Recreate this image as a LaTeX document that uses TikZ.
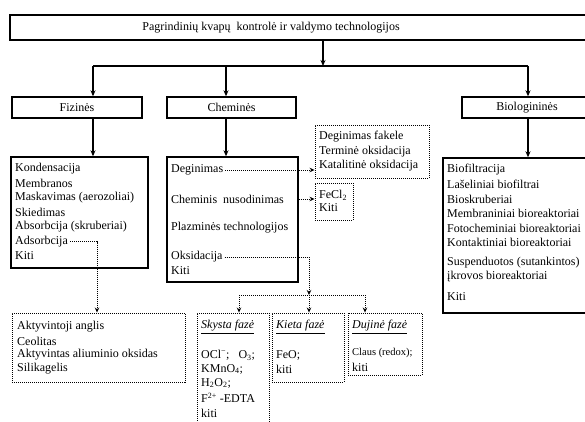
\documentclass[tikz,border=0pt]{standalone}
\usepackage{fontspec}
\setmainfont{Liberation Serif}
\usetikzlibrary{arrows.meta,positioning}
\tikzset{
  box/.style={draw, line width=1.4pt, inner sep=0pt, font=\fontsize{12}{14}\selectfont},
  dotbox/.style={draw, line width=0.9pt, dash pattern=on 1pt off 1pt, inner sep=0pt},
  item/.style={anchor=west, inner sep=0pt, font=\fontsize{12}{14}\selectfont},
  arr/.style={line width=1.2pt, -{Stealth[length=6pt,width=5pt]}},
  dotline/.style={line width=0.9pt, dash pattern=on 1pt off 1pt},
  dotarr/.style={dotline, -{Stealth[length=5pt,width=4.5pt]}},
}

\begin{document}
\begin{tikzpicture}[x=1pt,y=-1pt]
  \useasboundingbox (0,0) rectangle (585,422);
  \clip (0,0) rectangle (585,422);

  % top level
  \node[box, minimum width=590pt, minimum height=25pt] (top) at (305,27.5) {};
  \node[item, anchor=center] (toptext) at (271,27.5) {Pagrindinių kvapų\ \ kontrolė ir valdymo technologijos};
  \node[box, minimum width=130pt, minimum height=21pt] (fiz) at (77,107.5) {Fizinės};
  \node[box, minimum width=129pt, minimum height=21pt] (chem) at (231.5,107.5) {Cheminės};
  \node[box, minimum width=130pt, minimum height=21pt] (bio) at (527,107.5) {Biologininės};

  % lists
  \node[box, minimum width=137pt, minimum height=111pt] (fizlist) at (79.5,212.5) {};
  \node[box, minimum width=131pt, minimum height=125pt] (chemlist) at (232.5,219.5) {};
  \node[box, minimum width=157pt, minimum height=155pt] (biolist) at (521.5,235.5) {};
  \foreach \t [count=\i] in {Kondensacija,Membranos,Maskavimas (aerozoliai),Skiedimas,Absorbcija (skruberiai),Adsorbcija,Kiti}
    \node[item] (fiz\i) at (15,{154.5+14.5*\i}) {\t};
  \foreach \t/\y [count=\i] in {Deginimas/170,Cheminis\ \ nusodinimas/199,Plazminės technologijos/228,Oksidacija/257,Kiti/271}
    \node[item] (chem\i) at (171,\y) {\t};
  \foreach \t/\y [count=\i] in {Biofiltracija/170,Lašeliniai biofiltrai/184,Bioskruberiai/199,Membraniniai bioreaktoriai/213,
      Fotocheminiai bioreaktoriai/228,Kontaktiniai bioreaktoriai/242,Suspenduotos (sutankintos)/263,įkrovos bioreaktoriai/277,Kiti/297}
    \node[item] (bio\i) at (447,\y) {\t};

  % dotted boxes
  \node[dotbox, minimum width=114pt, minimum height=53pt] (degbox) at (372,151.5) {};
  \node[item] (deg1) at (319,137) {Deginimas fakele};
  \node[item] (deg2) at (319,152) {Terminė oksidacija};
  \node[item] (deg3) at (319,166) {Katalitinė oksidacija};
  \node[dotbox, minimum width=38pt, minimum height=37pt] (fecl) at (334,201.5) {};
  \node[item] (fecl1) at (319,195) {FeCl\textsubscript{2}};
  \node[item] (fecl2) at (319,208) {Kiti};

  \node[dotbox, minimum width=173pt, minimum height=69pt] (akt) at (98.5,347.5) {};
  \foreach \t [count=\i] in {Aktyvintoji anglis,Ceolitas,Aktyvintas aliuminio oksidas,Silikagelis}
    \node[item] (akt\i) at (17,{313+14*\i}) {\t};

  \node[dotbox, minimum width=72pt, minimum height=127pt] (skysta) at (233,376.5) {};
  \node[item] (sk1) at (201,327) {\underline{\textit{Skysta fazė}}};
  \node[item] (sk2) at (201,355) {OCl\textsuperscript{−};\ \ \ O\textsubscript{3};};
  \node[item] (sk3) at (201,369) {KMnO\textsubscript{4};};
  \node[item] (sk4) at (201,383) {H\textsubscript{2}O\textsubscript{2};};
  \node[item] (sk5) at (201,398) {F\textsuperscript{2+} -EDTA};
  \node[item] (sk6) at (201,413) {kiti};
  \node[dotbox, minimum width=72pt, minimum height=69pt] (kieta) at (308,347.5) {};
  \node[item] (ki1) at (276,327) {\underline{\textit{Kieta fazė}}};
  \node[item] (ki2) at (276,355) {FeO;};
  \node[item] (ki3) at (276,369) {kiti};
  \node[dotbox, minimum width=74pt, minimum height=62pt] (dujine) at (385,344) {};
  \node[item] (du1) at (352,327) {\underline{\textit{Dujinė fazė}}};
  \node[item, font=\fontsize{10.5}{12}\selectfont] (du2) at (352,353) {Claus (redox);};
  \node[item] (du3) at (352,367) {kiti};

  % solid connectors
  \coordinate (hub) at (323,66);
  \coordinate (jf) at (93,66);
  \coordinate (jc) at (226,66);
  \coordinate (jb) at (528,66);
  \draw[arr] (top.south -| hub) -- (hub);
  \draw[line width=1.2pt] (jf) -- (jb);
  \foreach \j/\h/\l in {jf/fiz/fizlist, jc/chem/chemlist, jb/bio/biolist} {
    \draw[arr] (\j) -- (\j |- \h.north);
    \draw[arr] (\j |- \h.south) -- (\j |- \l.north);
  }

  % dotted connectors
  \coordinate (adsx) at (97,241);
  \coordinate (oxj) at (309,295);
  \coordinate (sp1) at (239,295);
  \coordinate (sp3) at (365,295);
  \draw[dotarr] ([xshift=2pt]fiz6.east) -| (adsx |- akt.north);
  \draw[dotarr] ([xshift=2pt]chem1.east) -- (chem1.east -| degbox.west);
  \draw[dotarr] (chem2 -| chemlist.east) -- (chem2 -| fecl.west);
  \draw[dotarr] ([xshift=2pt]chem4.east) -| (oxj);
  \draw[dotline] (sp1) -- (sp3);
  \foreach \s/\b in {sp1/skysta, oxj/kieta, sp3/dujine}
    \draw[dotarr] (\s) -- (\s |- \b.north);
\end{tikzpicture}
\end{document}
